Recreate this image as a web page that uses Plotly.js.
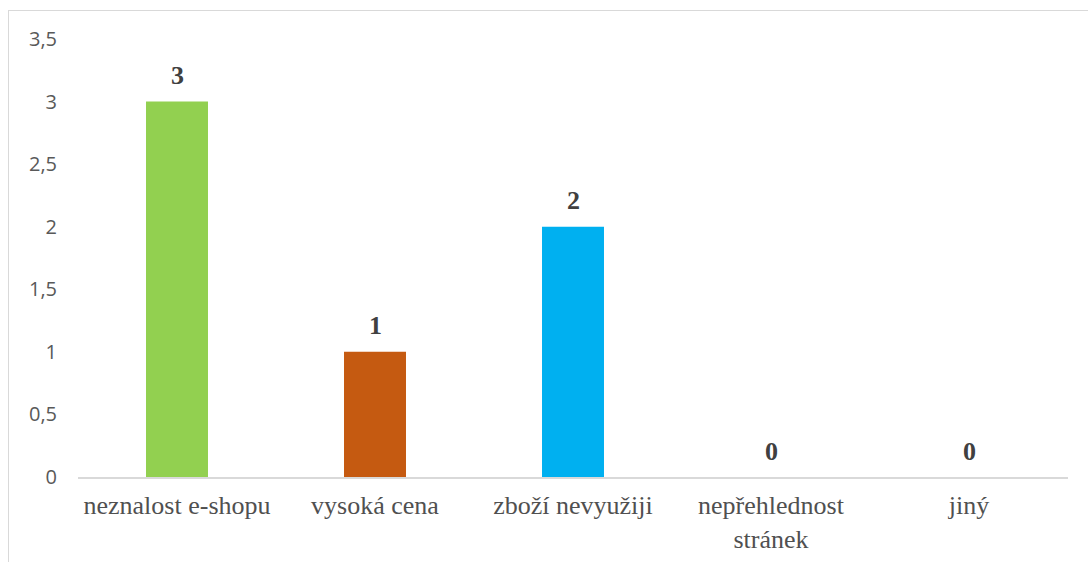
<!DOCTYPE html>
<html>
<head>
<meta charset="utf-8">
<script src="https://cdn.plot.ly/plotly-3.0.1.min.js"></script>
<style>
html,body{margin:0;padding:0;background:#fff;}
#wrap{position:relative;width:1088px;height:562px;overflow:hidden;}
#frame{position:absolute;left:8px;top:10px;width:1200px;height:700px;border-left:1.5px solid #d9d9d9;border-top:1.5px solid #d9d9d9;pointer-events:none;}
#chart{position:absolute;left:0;top:0;width:1088px;height:562px;}
</style>
</head>
<body>
<div id="wrap">
<div id="chart"></div>
<div id="frame"></div>
</div>
<script>
const categories = ["neznalost e-shopu", "vysoká cena", "zboží nevyužiji", "nepřehlednost<br>stránek", "jiný"];
const values = [3, 1, 2, 0, 0];
const colors = ["#92D050", "#C55A11", "#00B0F0", "#4472C4", "#A5A5A5"];

const trace = {
  type: "bar",
  x: categories,
  y: values,
  marker: {color: colors},
  hoverinfo: "none"
};

const annotations = categories.map((c, i) => ({
  x: c, y: values[i], xref: "x", yref: "y",
  text: "<b>" + values[i] + "</b>",
  showarrow: false, yanchor: "middle", yshift: 26,
  font: {family: "Liberation Serif", size: 26, color: "#404040"}
}));

const layout = {
  width: 1088, height: 562,
  margin: {l: 78, r: 20, t: 39, b: 85},
  paper_bgcolor: "#fff", plot_bgcolor: "#fff",
  separators: ", ",
  showlegend: false,
  bargap: 0.687,
  xaxis: {
    showline: true, linecolor: "#d9d9d9", linewidth: 1.5,
    ticks: "", tickangle: 0, showgrid: false, zeroline: false,
    tickfont: {family: "Liberation Serif", size: 26, color: "#505050"},
    ticklabelstandoff: 4
  },
  yaxis: {
    range: [0, 3.5], dtick: 0.5, tick0: 0,
    showgrid: false, zeroline: false, showline: false, ticks: "",
    tickfont: {family: "Open Sans", size: 20, color: "#595959"},
    ticklabelstandoff: 20
  },
  annotations: annotations
};

Plotly.newPlot("chart", [trace], layout, {displayModeBar: false, staticPlot: true});
</script>
</body>
</html>
